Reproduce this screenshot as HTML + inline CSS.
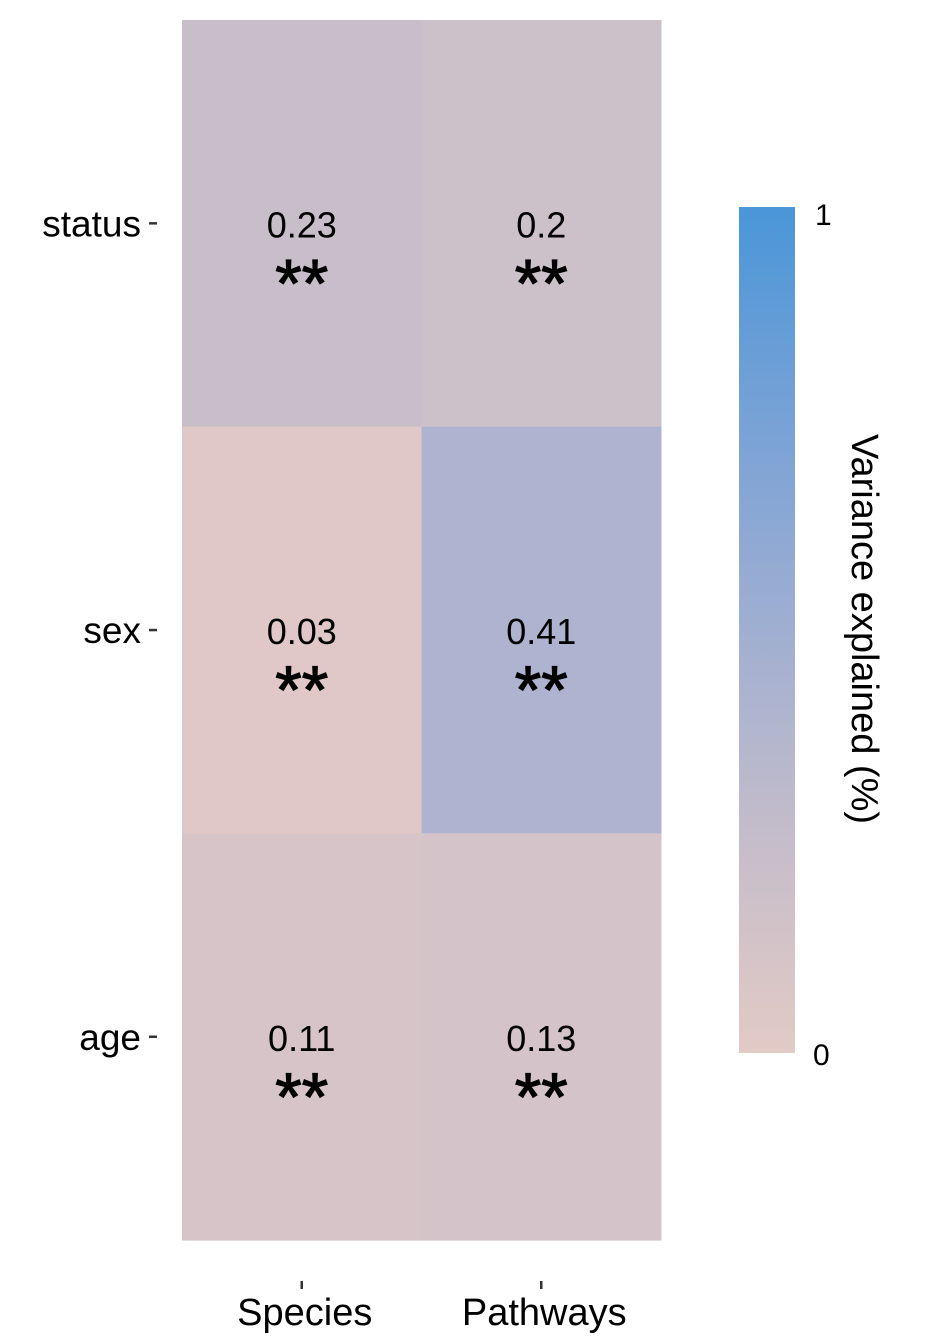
<!DOCTYPE html>
<html><head><meta charset="utf-8"><style>
body{margin:0;background:#fff}
svg{display:block;font-family:"Liberation Sans",Arial,sans-serif}
</style></head><body>
<svg id="c" width="925" height="1342" viewBox="0 0 925 1342">
<defs>
<linearGradient id="cb" x1="0" y1="1" x2="0" y2="0">
<stop offset="0" stop-color="rgb(226,202,198)"/>
<stop offset="0.23" stop-color="rgb(200,190,201)"/>
<stop offset="0.41" stop-color="rgb(174,180,207)"/>
<stop offset="0.7" stop-color="rgb(128,164,213)"/>
<stop offset="1" stop-color="rgb(74,150,216)"/>
</linearGradient>
</defs>
<g id="cells"></g>
<g id="labels"></g>
<rect x="739" y="207" width="56" height="846" fill="url(#cb)"/>
<text x="815" y="225" font-size="30">1</text>
<text x="813" y="1065" font-size="30">0</text>
<text transform="translate(852,629) rotate(90)" text-anchor="middle" font-size="38">Variance explained (%)</text>
</svg>
<script>
const columns=["Species","Pathways"];
const rows=["status","sex","age"];
const species=[0.23,0.03,0.11];
const pathways=[0.2,0.41,0.13];
const stars=["**","**","**"];

const x0=182,cw=239.5,y0=20,rh=406.7;
const stops=[[0,[226,202,198]],[0.11,[214,196,200]],[0.23,[200,190,201]],[0.41,[174,180,207]],[0.7,[128,164,213]],[1,[74,150,216]]];
function col(v){for(let i=1;i<stops.length;i++){if(v<=stops[i][0]){const a=stops[i-1],b=stops[i],t=(v-a[0])/(b[0]-a[0]);return 'rgb('+a[1].map((c,k)=>Math.round(c+(b[1][k]-c)*t)).join(',')+')';}}return 'rgb(74,150,216)';}
const NS="http://www.w3.org/2000/svg";
const cells=document.getElementById('cells'),labels=document.getElementById('labels');
function mk(tag,attrs,parent,text){const e=document.createElementNS(NS,tag);for(const k in attrs)e.setAttribute(k,attrs[k]);if(text!==undefined)e.textContent=text;parent.appendChild(e);return e;}
const series=[species,pathways];
series.forEach((vals,ci)=>{vals.forEach((v,ri)=>{
  const x=x0+ci*cw,y=y0+ri*rh;
  const r=mk('rect',{x:x,y:y,width:cw+0.5,height:rh+0.5,fill:col(v)},cells);
  
  
  const cx=x+cw/2,cy=y+rh/2;
  const t=mk('text',{x:cx,y:cy+14,'text-anchor':'middle','font-size':36},labels,String(v));
  
  
  const s=mk('text',{x:cx,y:cy+83,'text-anchor':'middle','font-size':68,stroke:'#000','stroke-width':1.2},labels,stars[ri]);
  
  
});});
rows.forEach((r,ri)=>{
  const cy=y0+ri*rh+rh/2;
  const t=mk('text',{x:141,y:cy+13,'text-anchor':'end','font-size':37},labels,r);
  
  
  const k=mk('line',{x1:149,x2:157,y1:cy,y2:cy,stroke:'#333','stroke-width':2.5},labels);
  
  
});
columns.forEach((c,ci)=>{
  const cx=x0+ci*cw+cw/2;
  const k=mk('line',{x1:cx,x2:cx,y1:1281,y2:1289,stroke:'#333','stroke-width':2.5},labels);
  
  
  const t=mk('text',{x:cx+3,y:1325,'text-anchor':'middle','font-size':38},labels,c);
  
  
});
</script>
</body></html>
